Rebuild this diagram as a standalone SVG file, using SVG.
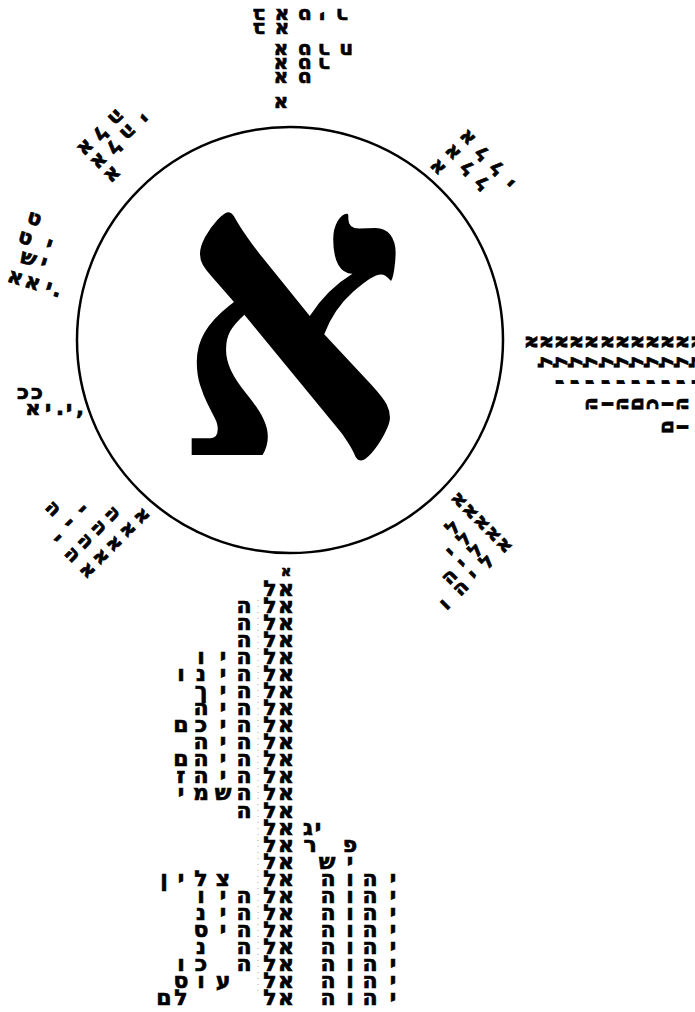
<svg xmlns="http://www.w3.org/2000/svg" width="695" height="1012" viewBox="0 0 695 1012">
<style>
.h{font-family:"DejaVu Sans","Liberation Sans",sans-serif;font-weight:bold;fill:#000;stroke:#000;stroke-width:0.7;text-anchor:middle;dominant-baseline:central}
.s22{font-size:22px}
.s21{font-size:21px}
.s20{font-size:20px}
.s19{font-size:19px}
.s14{font-size:14px}
.big{font-family:"Liberation Serif","DejaVu Sans",serif;font-weight:bold;fill:#000;text-anchor:middle}
</style>
<rect width="695" height="1012" fill="#fff"/>
<g id="center">
<circle cx="290" cy="340" r="213" fill="none" stroke="#000" stroke-width="2.5"/>
<text class="big" font-size="380" transform="translate(291,455) scale(0.95,1.08)">א</text>
</g>
<g id="bottom" class="h s22">
<line x1="258" y1="600" x2="258" y2="995" stroke="#aaa" stroke-width="1" stroke-dasharray="1 5"/>
<text class="s14" x="286" y="571">א</text>
<text x="286 270" y="588">אל</text>
<text x="286 270 244" y="605">אלה</text>
<text x="286 270 244" y="622">אלה</text>
<text x="286 270 244" y="639">אלה</text>
<text x="286 270 244 223 201" y="656">אלהיו</text>
<text x="286 270 244 223 201 181" y="673">אלהינו</text>
<text x="286 270 244 223 201" y="690">אלהיך</text>
<text x="286 270 244 223 201" y="707">אלהיה</text>
<text x="286 270 244 223 201 181" y="724">אלהיכם</text>
<text x="286 270 244 223 201" y="741">אלהיה</text>
<text x="286 270 244 223 201 181" y="758">אלהיהם</text>
<text x="286 270 244 223 201 181" y="775">אלהיהז</text>
<text x="286 270 244 223 201 181" y="792">אלהשמי</text>
<text x="286 270 244" y="810">אלה</text>
<text x="286 270" y="827">אל</text>
<text x="286 270" y="844">אל</text>
<text x="286 270" y="861">אל</text>
<text x="286 270 223 201 181 164" y="878">אלצלין</text>
<text x="286 270 244 223 201" y="895">אלהיו</text>
<text x="286 270 244 223 201" y="912">אלהינ</text>
<text x="286 270 244 223 201" y="929">אלהיס</text>
<text x="286 270 244 201" y="946">אלהנ</text>
<text x="286 270 244 201 181" y="963">אלהכו</text>
<text x="286 270 223 201 181" y="980">אלעוס</text>
<text x="286 270 181 164" y="997">אללם</text>
</g>
<g id="bottom-names" class="h s22">
<text x="318 308" y="827">יג</text>
<text x="350 310" y="844">פר</text>
<text x="350 327" y="861">יש</text>
<text x="393 370 350 328" y="878">יהוה</text>
<text x="393 370 350 328" y="895">יהוה</text>
<text x="393 370 350 328" y="912">יהוה</text>
<text x="393 370 350 328" y="929">יהוה</text>
<text x="393 370 350 328" y="946">יהוה</text>
<text x="393 370 350 328" y="963">יהוה</text>
<text x="393 370 350 328" y="980">יהוה</text>
<text x="393 370 350 328" y="997">יהוה</text>
</g>
<g id="top" class="h s20" transform="translate(281,104) rotate(180)">
<text x="0" y="0">א</text>
<text x="0 -24" y="25">אט</text>
<text x="0 -24 -43" y="39">אטר</text>
<text x="0 -24 -43 -65" y="53">אטרח</text>
<text x="22 -1" y="74">בא</text>
<text x="22 -1 -24 -41 -61" y="88">באטיר</text>
</g>
<g id="right" class="h s20" transform="translate(530,342) rotate(-90)">
<text x="0" y="0">א</text>
<text x="0 -20" y="15.1">אל</text>
<text x="0 -20 -40" y="30.2">אלי</text>
<text x="0 -20 -40" y="45.3">אלי</text>
<text x="0 -20 -40 -62" y="60.4">אליה</text>
<text x="0 -20 -40 -62" y="75.5">אליו</text>
<text x="0 -20 -40 -62" y="90.6">אליה</text>
<text x="0 -20 -40 -62" y="105.7">אלים</text>
<text x="0 -20 -40 -62" y="120.8">אליכ</text>
<text x="0 -20 -40 -62 -85" y="135.9">אליום</text>
<text x="0 -20 -40 -62 -85" y="151">אליהו</text>
<text x="0 -20 -40" y="166.1">אלי</text>
</g>
<g id="lower-right" class="h s20" transform="translate(458,499) rotate(-45)">
<text x="0" y="0">א</text>
<text x="0 -24" y="16">אל</text>
<text x="0 -24 -43" y="32">אלי</text>
<text x="0 -24 -43 -61" y="48">אליה</text>
<text x="0 -24 -43 -61 -84" y="64">אליהו</text>
</g>
<g id="upper-right" class="h s20" transform="translate(437,168) rotate(-135)">
<text x="0" y="0">א</text>
<text x="0 -21 -42" y="21">אלל</text>
<text x="0 -21 -42 -63" y="42">אללי</text>
</g>
<g id="upper-left" class="h s21" transform="translate(113,175) rotate(135)">
<text x="0" y="0">א</text>
<text x="0 -20 -41 -62" y="19">אלהי</text>
<text x="0 -20 -43" y="38">אלה</text>
</g>
<g id="lower-left" class="h s20" transform="translate(143,515) rotate(45)">
<text x="0" y="0">א</text>
<text x="0 -22" y="19.5">אה</text>
<text x="0 -22 -47" y="39">אהי</text>
<text x="0 -22 -47 -68" y="58">אהיה</text>
<text x="0 -22 -44" y="77">אהי</text>
</g>
<g id="left-upper" class="h s21" transform="translate(36,282) rotate(17)">
<text x="23 14 -3 -21" y="1">.יאא</text>
<text x="2 -14" y="-21">יש</text>
<text x="2 -23" y="-40">יט</text>
<text x="-20" y="-61">ט</text>
</g>
<g id="left-lower" class="h s21">
<text x="80 69 60 48 33" y="408">,י.יא</text>
<text x="37 23" y="392">ככ</text>
</g>
</svg>
